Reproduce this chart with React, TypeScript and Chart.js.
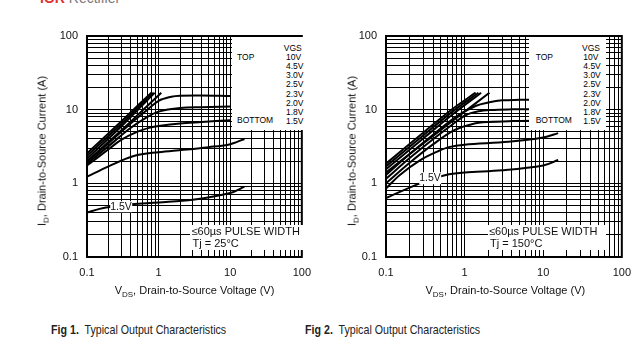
import React, { useEffect, useRef } from "react";
import { Chart, registerables } from "chart.js";
Chart.register(...registerables);

const FONT = "'Liberation Sans', Arial, Helvetica, sans-serif";

// Tick values (log grid) and labelled decades
const tickValues = [
  0.1, 0.2, 0.3, 0.4, 0.5, 0.6, 0.7, 0.8, 0.9,
  1, 2, 3, 4, 5, 6, 7, 8, 9,
  10, 20, 30, 40, 50, 60, 70, 80, 90, 100,
];
const decadeLabels = [0.1, 1, 10, 100];
const vgsLabels = ["10V", "4.5V", "3.0V", "2.5V", "2.3V", "2.0V", "1.8V", "1.5V"];

// ---- Fig 1, Tj = 25°C ----
const t25c1Vds = [0.1, 0.3, 0.79];
const t25c1Id = [2.55, 6.9, 17];
const t25c2Vds = [0.1, 0.3, 0.83];
const t25c2Id = [2.35, 6.4, 17];
const t25c3Vds = [0.1, 0.3, 0.88];
const t25c3Id = [2.15, 5.9, 17];
const t25c4Vds = [0.1, 0.3, 0.6, 1.09];
const t25c4Id = [2.0, 5.2, 9.8, 17];
const t25c5Vds = [0.1, 0.2, 0.4, 0.7, 1.0, 1.5, 2, 4, 10];
const t25c5Id = [1.95, 3.5, 6.4, 10, 13.2, 15, 15.5, 15.6, 15.3];
const t25c6Vds = [0.1, 0.2, 0.4, 0.7, 1, 2, 4, 10];
const t25c6Id = [1.85, 3.2, 5.6, 8.0, 9.4, 10.5, 10.8, 11];
const t25c7Vds = [0.1, 0.2, 0.3, 0.5, 0.76, 1, 2, 4, 10];
const t25c7Id = [1.75, 2.9, 3.9, 5.0, 5.7, 6.0, 6.5, 6.8, 7.2];
const t25c8Vds = [0.1, 0.2, 0.45, 1, 2.2, 5, 9.4, 12, 15.8];
const t25c8Id = [1.23, 1.7, 2.35, 2.65, 2.85, 3.1, 3.35, 3.6, 4.0];
const t25c9Vds = [0.1, 0.15, 0.25, 0.42, 1, 3, 10, 15.8];
const t25c9Id = [0.4, 0.45, 0.49, 0.52, 0.55, 0.6, 0.74, 0.9];

// ---- Fig 2, Tj = 150°C ----
const t150c1Vds = [0.1, 0.3, 0.7, 1.38];
const t150c1Id = [1.85, 4.9, 10.2, 17];
const t150c2Vds = [0.1, 0.3, 0.7, 1.5];
const t150c2Id = [1.7, 4.5, 9.4, 17];
const t150c3Vds = [0.1, 0.3, 0.7, 1.62];
const t150c3Id = [1.55, 4.1, 8.6, 17];
const t150c4Vds = [0.1, 0.3, 0.7, 2.07];
const t150c4Id = [1.4, 3.5, 7.0, 17];
const t150c5Vds = [0.1, 0.2, 0.4, 0.8, 1.4, 2.0, 3, 5, 10];
const t150c5Id = [1.3, 2.5, 4.6, 8.2, 11.3, 12.5, 13.4, 13.6, 13.7];
const t150c6Vds = [0.1, 0.2, 0.4, 0.7, 1.03, 1.5, 2.13, 4, 10];
const t150c6Id = [1.15, 2.2, 4.0, 6.3, 8.4, 9.5, 9.9, 10.1, 10.2];
const t150c7Vds = [0.1, 0.2, 0.4, 0.75, 1.27, 2, 4, 10];
const t150c7Id = [1.0, 1.9, 3.4, 5.3, 6.4, 6.8, 7.0, 7.1];
const t150c8Vds = [0.1, 0.15, 0.27, 0.45, 0.63, 1, 3.6, 10, 15.5];
const t150c8Id = [0.85, 1.3, 2.05, 2.7, 3.1, 3.35, 3.67, 4.2, 4.8];
const t150c9Vds = [0.1, 0.27, 0.58, 1, 3, 10, 15.5];
const t150c9Id = [0.63, 1.0, 1.3, 1.4, 1.5, 1.75, 2.07];

type Curve = { vds: number[]; id: number[] };

const curves25: Curve[] = [
  { vds: t25c1Vds, id: t25c1Id },
  { vds: t25c2Vds, id: t25c2Id },
  { vds: t25c3Vds, id: t25c3Id },
  { vds: t25c4Vds, id: t25c4Id },
  { vds: t25c5Vds, id: t25c5Id },
  { vds: t25c6Vds, id: t25c6Id },
  { vds: t25c7Vds, id: t25c7Id },
  { vds: t25c8Vds, id: t25c8Id },
  { vds: t25c9Vds, id: t25c9Id },
];
const curves150: Curve[] = [
  { vds: t150c1Vds, id: t150c1Id },
  { vds: t150c2Vds, id: t150c2Id },
  { vds: t150c3Vds, id: t150c3Id },
  { vds: t150c4Vds, id: t150c4Id },
  { vds: t150c5Vds, id: t150c5Id },
  { vds: t150c6Vds, id: t150c6Id },
  { vds: t150c7Vds, id: t150c7Id },
  { vds: t150c8Vds, id: t150c8Id },
  { vds: t150c9Vds, id: t150c9Id },
];

const framePlugin = {
  id: "frame",
  afterDatasetsDraw(chart: any) {
    const { ctx, chartArea: a } = chart;
    ctx.save();
    ctx.strokeStyle = "#000";
    ctx.lineWidth = 2;
    ctx.strokeRect(a.left, a.top, a.right - a.left, a.bottom - a.top);
    ctx.restore();
  },
};

function logAxis(axis: "x" | "y", size: number) {
  return {
    type: "logarithmic",
    min: 0.1,
    max: 100,
    border: { color: "#000", width: 2 },
    grid: { color: "#000", lineWidth: 1, drawTicks: false },
    ticks: {
      autoSkip: false,
      maxRotation: 0,
      padding: 9,
      color: "#111",
      font: { family: FONT, size: 11 },
      callback: (v: number) => (decadeLabels.includes(v) ? String(v) : ""),
    },
    afterBuildTicks: (s: any) => {
      s.ticks = tickValues.map((v) => ({ value: v }));
    },
    afterFit: (s: any) => {
      if (axis === "x") s.height = size;
      else s.width = size;
    },
  };
}

function Panel({ curves, left, yWidth }: { curves: Curve[]; left: number; yWidth: number }) {
  const ref = useRef<HTMLCanvasElement>(null);
  useEffect(() => {
    if (!ref.current) return;
    const chart = new Chart(ref.current, {
      type: "line",
      data: {
        datasets: curves.map((c) => ({
          data: c.vds.map((x, i) => ({ x, y: c.id[i] })),
          borderColor: "#000",
          borderWidth: 2,
          pointRadius: 0,
          tension: 0.35,
          fill: false,
        })),
      },
      options: {
        animation: false,
        responsive: false,
        events: [],
        layout: { padding: { top: 36, right: 13, bottom: 13, left: 0 } },
        plugins: { legend: { display: false }, tooltip: { enabled: false } },
        scales: {
          x: logAxis("x", 30) as any,
          y: logAxis("y", yWidth) as any,
        },
      },
      plugins: [framePlugin],
    } as any);
    return () => chart.destroy();
  }, []);
  return (
    <canvas
      ref={ref}
      width={320}
      height={300}
      style={{ position: "absolute", left, top: 0, width: 320, height: 300 }}
    />
  );
}

function Txt(props: {
  x: number;
  y: number;
  size: number;
  align?: "left" | "right" | "center";
  bold?: boolean;
  bg?: string;
  rotate?: boolean;
  color?: string;
  children: React.ReactNode;
}) {
  const { x, y, size, align = "left", bold, bg, rotate, color = "#111" } = props;
  const tx = align === "left" ? "0" : align === "right" ? "-100%" : "-50%";
  return (
    <div
      style={{
        position: "absolute",
        left: x,
        top: y,
        transform: `translate(${tx}, -50%)${rotate ? " rotate(-90deg)" : ""}`,
        fontSize: size,
        lineHeight: 1.1,
        fontFamily: FONT,
        fontWeight: bold ? "bold" : "normal",
        whiteSpace: "nowrap",
        color,
        background: bg,
      }}
    >
      {props.children}
    </div>
  );
}

const Sub = ({ children }: { children: React.ReactNode }) => (
  <span style={{ fontSize: 8, position: "relative", top: 3 }}>{children}</span>
);

function Legend(props: { boxLeft: number; boxWidth: number; labelX: number; valueX: number; vgsX: number; prefix: string }) {
  const { boxLeft, boxWidth, labelX, valueX, vgsX, prefix } = props;
  return (
    <>
      <div style={{ position: "absolute", left: boxLeft, top: 37, width: boxWidth, height: 93, background: "#fff" }} />
      <Txt x={vgsX} y={49.3} size={8.5} align="right" color="#000">VGS</Txt>
      <Txt x={labelX} y={58.3} size={8.5} color="#000">TOP</Txt>
      <Txt x={labelX} y={120.7} size={8.5} color="#000">BOTTOM</Txt>
      {vgsLabels.map((l, i) => (
        <Txt key={prefix + l} x={valueX} y={58.3 + i * 9.05} size={8.5} color="#000">{l}</Txt>
      ))}
    </>
  );
}

const captionStyle: React.CSSProperties = {
  position: "absolute",
  top: 321.5,
  fontFamily: FONT,
  fontSize: 13,
  lineHeight: "16px",
  whiteSpace: "nowrap",
  color: "#222",
  transform: "scaleX(0.82)",
  transformOrigin: "left center",
};

export default function App() {
  return (
    <div
      style={{
        position: "fixed",
        left: 0,
        top: 0,
        width: 641,
        height: 361,
        background: "#fff",
        overflow: "hidden",
      }}
    >
      {/* cut-off logo at the top */}
      <div style={{ position: "absolute", left: 40, top: -10, fontFamily: FONT, fontSize: 14, whiteSpace: "nowrap" }}>
        <span style={{ color: "#e03030", fontWeight: "bold" }}>IOR</span>
        <span style={{ color: "#777" }}> Rectifier</span>
      </div>

      <Panel curves={curves25} left={0} yWidth={87} />
      <Panel curves={curves150} left={320} yWidth={66} />

      {/* Fig 1 overlays */}
      <Legend boxLeft={232} boxWidth={74} labelX={237} valueX={286} vgsX={301.7} prefix="a" />
      <div style={{ position: "absolute", left: 190, top: 225, width: 116, height: 25, background: "#fff" }} />
      <Txt x={191.5} y={231} size={11}>≤60µs PULSE WIDTH</Txt>
      <Txt x={192.5} y={243} size={11}>Tj = 25°C</Txt>
      <Txt x={121} y={206.5} size={10.5} align="center" bg="#fff">1.5V</Txt>
      <Txt x={42} y={151} size={11} align="center" rotate>
        I<Sub>D</Sub>, Drain-to-Source Current (A)
      </Txt>
      <Txt x={194.5} y={290} size={11} align="center">
        V<Sub>DS</Sub>, Drain-to-Source Voltage (V)
      </Txt>

      {/* Fig 2 overlays */}
      <Legend boxLeft={529} boxWidth={77} labelX={535.7} valueX={583.3} vgsX={600} prefix="b" />
      <div style={{ position: "absolute", left: 488, top: 225, width: 118, height: 25, background: "#fff" }} />
      <Txt x={489} y={231} size={11}>≤60µs PULSE WIDTH</Txt>
      <Txt x={490} y={243} size={11}>Tj = 150°C</Txt>
      <Txt x={430} y={178} size={10.5} align="center" bg="#fff">1.5V</Txt>
      <Txt x={351.7} y={151} size={11} align="center" rotate>
        I<Sub>D</Sub>, Drain-to-Source Current (A)
      </Txt>
      <Txt x={505.3} y={290} size={11} align="center">
        V<Sub>DS</Sub>, Drain-to-Source Voltage (V)
      </Txt>

      {/* captions */}
      <div style={{ ...captionStyle, left: 50.7 }}>
        <b>Fig 1.</b>&nbsp; Typical Output Characteristics
      </div>
      <div style={{ ...captionStyle, left: 305 }}>
        <b>Fig 2.</b>&nbsp; Typical Output Characteristics
      </div>
    </div>
  );
}
